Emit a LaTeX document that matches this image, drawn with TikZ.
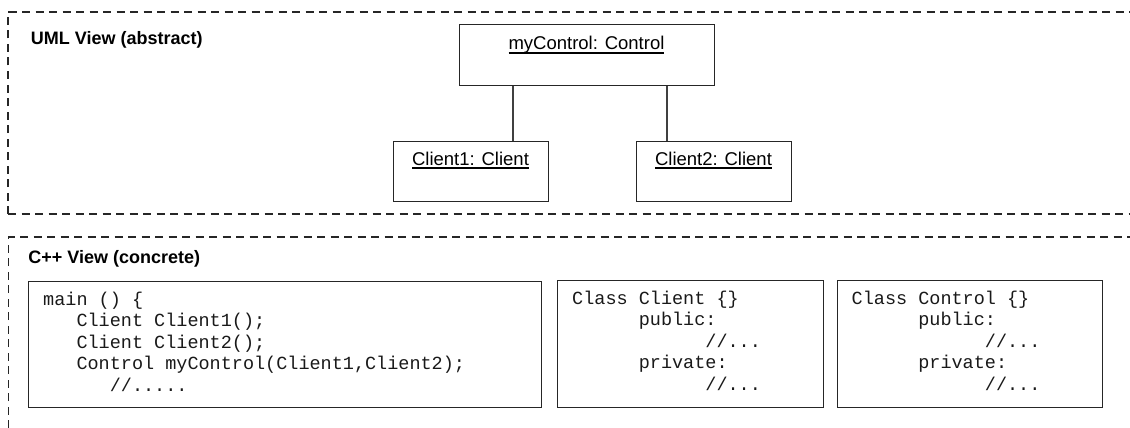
\documentclass[tikz,border=0pt]{standalone}
\usepackage{fontspec}
\setmainfont{Liberation Sans}
\setsansfont{Liberation Sans}
\setmonofont{Liberation Mono}
\newcommand\myul[1]{\setbox0\hbox{#1}\rlap{\rule[-3.6pt]{\wd0}{1.3pt}}\box0}
\begin{document}
\begin{tikzpicture}[x=1pt,y=-1pt,
  frame/.style={line width=1.4pt, dash pattern=on 8pt off 5.5pt, draw=black!85},
  umlbox/.style={draw=black!85, line width=1.1pt, inner sep=0pt, anchor=north west},
  umltext/.style={anchor=base, inner sep=0pt, font=\fontsize{18.5}{21.5}\selectfont},
  titletext/.style={anchor=base west, inner sep=0pt, font=\fontsize{18}{21}\selectfont\bfseries},
  codetext/.style={anchor=base west, align=left, inner sep=0pt, text=black!90,
    font=\fontsize{18.5}{21.5}\selectfont\ttfamily},
  conn/.style={draw=black!75, line width=1.1pt}]
\useasboundingbox (0,0) rectangle (1130,428);
% frames
\draw[frame] (8,214) -- (8,12) -- (1130,12);
\draw[frame] (8,214) -- (1130,214);
\draw[frame] (8.5,428) -- (8.5,237) -- (1130,237);
% titles
\node[titletext] (t1) at (30.7,45) {UML View (abstract)};
\node[titletext] (t2) at (28.2,263) {C++ View (concrete)};
% UML objects
\node[umlbox, minimum width=255, minimum height=61] (myc) at (459,24) {};
\node[umlbox, minimum width=155, minimum height=60] (c1) at (393,141) {};
\node[umlbox, minimum width=155, minimum height=60] (c2) at (636,141) {};
\node[umltext] (mycl) at (586.5,50) {\myul{myControl: Control}};
\node[umltext] (c1l) at (470.5,165) {\myul{Client1: Client}};
\node[umltext] (c2l) at (713.5,165) {\myul{Client2: Client}};
\coordinate (k1) at (513,0);
\coordinate (k2) at (667,0);
\draw[conn] (myc.south -| k1) -- (c1.north -| k1);
\draw[conn] (myc.south -| k2) -- (c2.north -| k2);
% code boxes
\node[umlbox, minimum width=513, minimum height=126] (mainbox) at (28,281) {};
\node[umlbox, minimum width=266, minimum height=127] (clientbox) at (557,280) {};
\node[umlbox, minimum width=265, minimum height=127] (controlbox) at (837,280) {};
% (multi-line nodes: base anchor = baseline of the last line)
\node[codetext] (maincode) at (43,391) {main () \{\\
\hspace*{1.8em}Client Client1();\\
\hspace*{1.8em}Client Client2();\\
\hspace*{1.8em}Control myControl(Client1,Client2);\\
\hspace*{3.6em}//.....};
\node[codetext] (clientcode) at (572,390) {Class Client \{\}\\
\hspace*{3.6em}public:\\
\hspace*{7.2em}//...\\
\hspace*{3.6em}private:\\
\hspace*{7.2em}//...};
\node[codetext] (controlcode) at (851.5,390) {Class Control \{\}\\
\hspace*{3.6em}public:\\
\hspace*{7.2em}//...\\
\hspace*{3.6em}private:\\
\hspace*{7.2em}//...};
\end{tikzpicture}
\end{document}
